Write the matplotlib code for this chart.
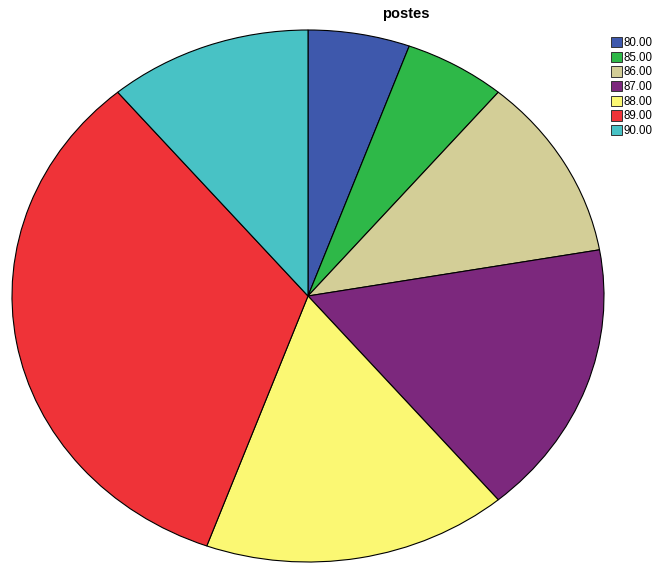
import matplotlib
matplotlib.use("Agg")
import matplotlib.pyplot as plt
from matplotlib.patches import Patch

# postes: frequency of each value
labels = ["80.00", "85.00", "86.00", "87.00", "88.00", "89.00", "90.00"]
counts = [1, 1, 2, 3, 3, 6, 2]
colors = ["#3E58AC", "#2EB848", "#D3CE97", "#7C287D", "#FBF873", "#EF3338", "#48C2C5"]

W, H = 660, 563
fig = plt.figure(figsize=(W / 100, H / 100), dpi=100)
fig.patch.set_facecolor("white")

# stretched pie (elliptical), as drawn by SPSS
ax = fig.add_axes([12 / W, 1 / H, 592 / W, 532 / H])
wedges, _ = ax.pie(counts, colors=colors, startangle=90, counterclock=False,
                   wedgeprops=dict(edgecolor="black", linewidth=0.8))
for w in wedges:
    w.set_clip_on(False)
ax.set_aspect("auto")
ax.set_xlim(-1, 1)
ax.set_ylim(-1, 1)
ax.axis("off")

fig.text(406 / W, 1 - 14 / H, "postes", ha="center", va="center",
         fontsize=10.5, fontweight="bold", family="Liberation Sans")

handles = [Patch(facecolor=c, edgecolor="#333333", linewidth=0.7) for c in colors]
fig.legend(handles, labels, loc="upper left", bbox_to_anchor=(603 / W, 1 - 29 / H),
           frameon=False, handlelength=0.95, handleheight=1.0,
           handletextpad=0.12, labelspacing=0.22, borderpad=0.2,
           prop=dict(family="Liberation Sans", size=8.3))

fig.savefig("out.png", dpi=100, facecolor="white")
